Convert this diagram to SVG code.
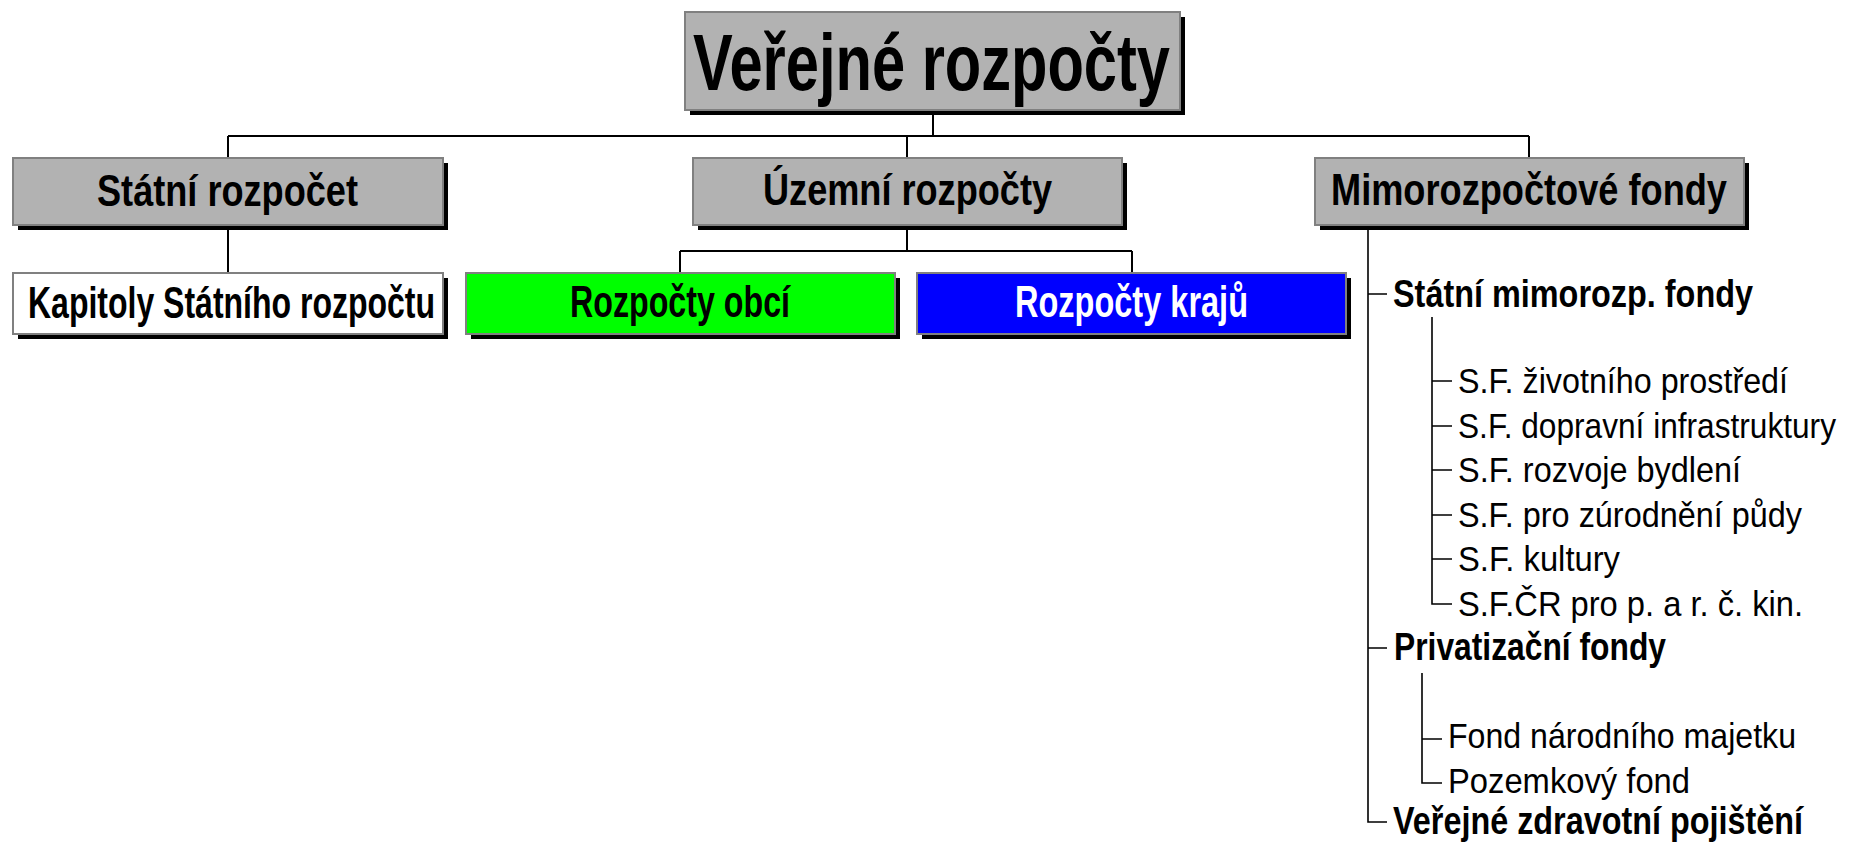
<svg xmlns="http://www.w3.org/2000/svg" width="1849" height="846" viewBox="0 0 1849 846">
<style>
.shadow{fill:#000}
.box{stroke:#808080;stroke-width:2}
.gray{fill:#b2b2b2}
.lbl{font-family:"Liberation Sans Narrow","Liberation Sans",Arial,sans-serif;font-weight:bold;font-size:44px;text-anchor:start}
.title{font-family:"Liberation Sans Narrow","Liberation Sans",Arial,sans-serif;font-weight:bold;font-size:80px}
.tb{font-family:"Liberation Sans Narrow","Liberation Sans",Arial,sans-serif;font-weight:bold;font-size:38px}
.tbw{font-family:"Liberation Sans",Arial,sans-serif;font-weight:bold;font-size:38px}
.tr{font-family:"Liberation Sans",Arial,sans-serif;font-size:35px}
.c{fill:none;stroke:#000;stroke-width:2}
.t{fill:none;stroke:#000;stroke-width:1.6}
</style>
<rect width="1849" height="846" fill="#fff"/>
<g id="connectors">
<path class="c" d="M933 110V136M228 136H1529M228 136V158M907 136V158M1529 136V158"/>
<path class="c" d="M228 225V273"/>
<path class="c" d="M907 225V251M680 251H1132M680 251V273M1132 251V273"/>
<path class="t" d="M1368 225V822H1387M1368 294H1387M1368 648H1387"/>
<path class="t" d="M1432 317V604H1452M1432 381H1452M1432 426H1452M1432 470H1452M1432 515H1452M1432 559H1452"/>
<path class="t" d="M1422 673V783H1442M1422 739H1442"/>
</g>
<g id="n-verejne">
<rect class="shadow" x="690" y="17" width="495" height="98"/>
<rect class="box gray" x="685" y="12" width="495" height="98"/>
<text class="title" x="693" y="90" textLength="477" lengthAdjust="spacingAndGlyphs">Veřejné rozpočty</text>
</g>
<g id="n-statni">
<rect class="shadow" x="18" y="163" width="430" height="67"/>
<rect class="box gray" x="13" y="158" width="430" height="67"/>
<text class="lbl" x="97" y="206" textLength="261" lengthAdjust="spacingAndGlyphs">Státní rozpočet</text>
</g>
<g id="n-uzemni">
<rect class="shadow" x="698" y="163" width="429" height="67"/>
<rect class="box gray" x="693" y="158" width="429" height="67"/>
<text class="lbl" x="763" y="205" textLength="289" lengthAdjust="spacingAndGlyphs">Územní rozpočty</text>
</g>
<g id="n-mimo">
<rect class="shadow" x="1320" y="163" width="429" height="67"/>
<rect class="box gray" x="1315" y="158" width="429" height="67"/>
<text class="lbl" x="1331" y="205" textLength="396" lengthAdjust="spacingAndGlyphs">Mimorozpočtové fondy</text>
</g>
<g id="n-kapitoly">
<rect class="shadow" x="18" y="278" width="430" height="61"/>
<rect class="box" fill="#fff" x="13" y="273" width="430" height="61"/>
<text class="lbl" x="28" y="318" textLength="407" lengthAdjust="spacingAndGlyphs">Kapitoly Státního rozpočtu</text>
</g>
<g id="n-obci">
<rect class="shadow" x="471" y="278" width="429" height="61"/>
<rect class="box" fill="#00ff00" x="466" y="273" width="429" height="61"/>
<text class="lbl" x="570" y="317" textLength="220" lengthAdjust="spacingAndGlyphs">Rozpočty obcí</text>
</g>
<g id="n-kraju">
<rect class="shadow" x="922" y="278" width="429" height="61"/>
<rect class="box" fill="#0000ff" x="917" y="273" width="429" height="61"/>
<text class="lbl" x="1015" y="317" fill="#fff" textLength="233" lengthAdjust="spacingAndGlyphs">Rozpočty krajů</text>
</g>
<g id="n-statni-mimo"><text class="tb" x="1393" y="307" textLength="360" lengthAdjust="spacingAndGlyphs">Státní mimorozp. fondy</text></g>
<g id="n-sf1"><text class="tr" x="1458" y="393" textLength="330" lengthAdjust="spacingAndGlyphs">S.F. životního prostředí</text></g>
<g id="n-sf2"><text class="tr" transform="translate(1458 438) scale(0.8957 1)" x="0" y="0" textLength="422" lengthAdjust="spacingAndGlyphs">S.F. dopravní infrastruktury</text></g>
<g id="n-sf3"><text class="tr" x="1458" y="482" textLength="283" lengthAdjust="spacingAndGlyphs">S.F. rozvoje bydlení</text></g>
<g id="n-sf4"><text class="tr" x="1458" y="527" textLength="344" lengthAdjust="spacingAndGlyphs">S.F. pro zúrodnění půdy</text></g>
<g id="n-sf5"><text class="tr" x="1458" y="571" textLength="162" lengthAdjust="spacingAndGlyphs">S.F. kultury</text></g>
<g id="n-sf6"><text class="tr" x="1458" y="616" textLength="345" lengthAdjust="spacingAndGlyphs">S.F.ČR pro p. a r. č. kin.</text></g>
<g id="n-privat"><text class="tb" x="1394" y="660" textLength="272" lengthAdjust="spacingAndGlyphs">Privatizační fondy</text></g>
<g id="n-fnm"><text class="tr" x="1448" y="748" textLength="348" lengthAdjust="spacingAndGlyphs">Fond národního majetku</text></g>
<g id="n-pozemk"><text class="tr" x="1448" y="793" textLength="242" lengthAdjust="spacingAndGlyphs">Pozemkový fond</text></g>
<g id="n-vzp"><text class="tbw" transform="translate(1393 834) scale(0.8478 1)" x="0" y="0" textLength="483.6" lengthAdjust="spacingAndGlyphs">Veřejné zdravotní pojištění</text></g>
</svg>
